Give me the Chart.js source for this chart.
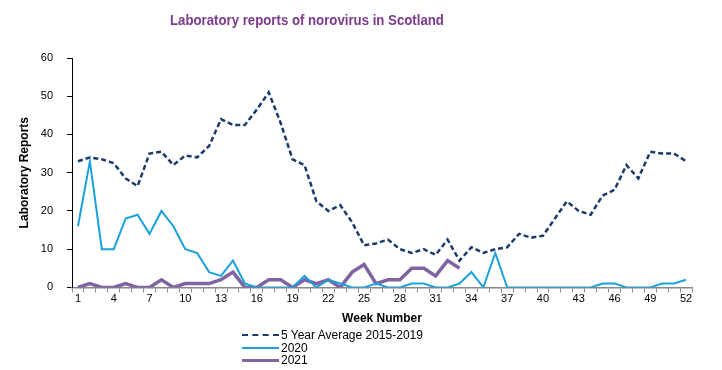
<!DOCTYPE html>
<html>
<head>
<meta charset="utf-8">
<script src="https://cdn.jsdelivr.net/npm/chart.js@4.4.1/dist/chart.umd.min.js"></script>
<style>
  body { margin: 0; background: #fff; }
  #wrap { position: relative; width: 722px; height: 370px; }
  #title {
    position: absolute; left: 170px; top: 11px;
    font: bold 15px "Liberation Sans", Arial, sans-serif;
    color: #7b3a8c; white-space: nowrap;
    transform-origin: left center;
  }
  #legend {
    position: absolute; left: 242px; top: 329px;
    font: 12px "Liberation Sans", Arial, sans-serif; color: #000;
  }
  .item { display: flex; align-items: center; height: 12.5px; }
  .swatch { width: 37px; margin-right: 2px; }
</style>
</head>
<body>
<div id="wrap">
  <canvas id="chart" width="722" height="370"></canvas>
  <div id="title">Laboratory reports of norovirus in Scotland</div>
  <div id="legend"></div>
</div>
<script>
const weeks = [];
for (let w = 1; w <= 52; w++) weeks.push(String(w));

const avgLabel = "5 Year Average 2015-2019";
const avgValues = [33, 34, 33.5, 32.5, 28.5, 26.5, 35, 35.5, 32, 34.5, 34, 37, 44, 42.5, 42.5, 46.5,
  51, 43, 33.5, 32, 22.5, 20, 21.5, 17, 11, 11.5, 12.5, 10, 9, 10, 8.5, 12.5, 7, 10.5, 9, 10,
  10.5, 14, 13, 13.5, 18, 22.5, 20, 19, 24, 25.5, 32, 28.5, 35.5, 35, 35, 33];

const label2020 = "2020";
const values2020 = [16, 33, 10, 10, 18, 19, 14, 20, 16, 10, 9, 4, 3, 7, 1, 0, 0, 0, 0, 3, 0, 2, 1, 0,
  0, 1, 0, 0, 1, 1, 0, 0, 1, 4, 0, 9, 0, 0, 0, 0, 0, 0, 0, 0, 1, 1, 0, 0, 0, 1, 1, 2];

const label2021 = "2021";
const values2021 = [0, 1, 0, 0, 1, 0, 0, 2, 0, 1, 1, 1, 2, 4, 0, 0, 2, 2, 0, 2, 1, 2, 0, 4, 6, 1,
  2, 2, 5, 5, 3, 7, 5];

const yTicks = [0, 10, 20, 30, 40, 50, 60];

const colAvg = "#1b3a6b";
const col2020 = "#1ba1dc";
const col2021 = "#8064a2";

const fontFam = "'Liberation Sans', Arial, sans-serif";

const datasets = [
  {
    label: avgLabel,
    data: avgValues,
    borderColor: colAvg,
    borderWidth: 2.5,
    borderDash: [5, 3],
    pointRadius: 0,
    tension: 0,
    fill: false
  },
  {
    label: label2020,
    data: values2020,
    borderColor: col2020,
    borderWidth: 2,
    pointRadius: 0,
    tension: 0,
    fill: false
  },
  {
    label: label2021,
    data: values2021,
    borderColor: col2021,
    borderWidth: 3.5,
    pointRadius: 0,
    tension: 0,
    fill: false
  }
];

new Chart(document.getElementById("chart"), {
  type: "line",
  data: { labels: weeks, datasets: datasets },
  options: {
    responsive: false,
    animation: false,
    layout: { padding: { left: 17, right: 30, top: 58, bottom: 44 } },
    plugins: {
      legend: { display: false },
      tooltip: { enabled: false }
    },
    scales: {
      x: {
        offset: true,
        grid: {
          offset: true,
          drawOnChartArea: false,
          drawTicks: true,
          tickLength: 5,
          color: "#888"
        },
        border: { color: "#888", width: 1.5 },
        ticks: {
          autoSkip: false,
          maxRotation: 0,
          color: "#000",
          padding: 0,
          font: { family: fontFam, size: 11 },
          callback: function (value, index) {
            return index % 3 === 0 ? weeks[index] : "";
          }
        },
        title: {
          display: true,
          text: "Week Number",
          color: "#000",
          padding: { top: 6, bottom: 0 },
          font: { family: fontFam, size: 12, weight: "bold" }
        }
      },
      y: {
        min: 0,
        max: 60,
        afterBuildTicks: function (axis) {
          axis.ticks = yTicks.map(v => ({ value: v }));
        },
        afterFit: function (axis) {
          axis.width = 55;
        },
        grid: {
          drawOnChartArea: false,
          drawTicks: true,
          tickLength: 5,
          color: "#000"
        },
        border: { color: "#000", width: 1 },
        ticks: {
          color: "#000",
          padding: 14,
          font: { family: fontFam, size: 11 }
        },
        title: {
          display: true,
          text: "Laboratory Reports",
          color: "#000",
          padding: { top: 0, bottom: 0 },
          font: { family: fontFam, size: 12, weight: "bold" }
        }
      }
    }
  }
});

// squeeze the title to the width it has in the original
const title = document.getElementById("title");
title.style.transform = "scaleX(" + (274 / title.offsetWidth).toFixed(3) + ")";

// legend as stacked rows, built from the datasets
const legend = document.getElementById("legend");
datasets.forEach(ds => {
  const row = document.createElement("div");
  row.className = "item";
  const sw = document.createElement("span");
  sw.className = "swatch";
  const style = ds.borderDash ? "dashed" : "solid";
  const w = ds.borderDash ? 2 : (ds.borderWidth >= 3 ? 3 : 2);
  sw.style.borderTop = w + "px " + style + " " + ds.borderColor;
  const txt = document.createElement("span");
  txt.textContent = ds.label;
  row.appendChild(sw);
  row.appendChild(txt);
  legend.appendChild(row);
});
</script>
</body>
</html>
